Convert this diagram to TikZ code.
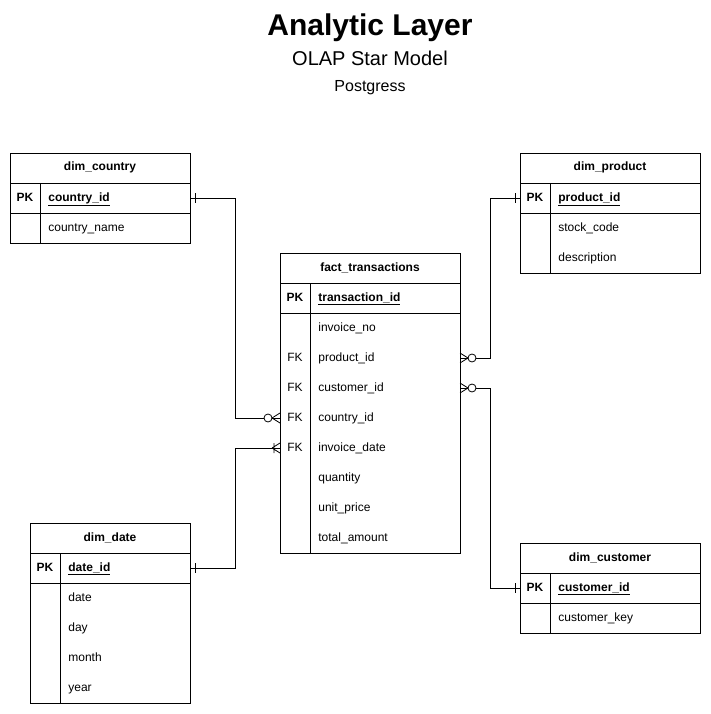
\documentclass[tikz,border=0pt]{standalone}
\usepackage{fontspec}
\setmainfont{Liberation Sans}
\usepackage{tikz}

\begin{document}
\begin{tikzpicture}[x=1pt,y=-1pt,line width=0.8pt,
	head/.style ={draw, minimum width=180pt, minimum height=30pt, inner sep=0pt, text height=9pt, text depth=3pt, font=\fontsize{12}{14}\selectfont\bfseries},
	key/.style ={inner sep=0pt, text height=9pt, text depth=3pt, font=\fontsize{12}{14}\selectfont},
	attr/.style ={anchor=west, inner sep=0pt, text height=9pt, text depth=3pt, font=\fontsize{12}{14}\selectfont},
	zmany/.pic ={\draw (-8,0) -- (0,-5) (-8,0) -- (0,5); \draw[fill=white] (-12,0) circle (4pt);},
	omany/.pic ={\draw (-8,0) -- (0,-5) (-8,0) -- (0,5) (-6,-5) -- (-6,5);},
	onebar/.pic ={\draw (5,-5) -- (5,5);}]
		\useasboundingbox (0,0) rectangle (711,714);
		% title
		\node[font=\fontsize{30}{34}\selectfont\bfseries] (title) at (370,28) {Analytic Layer};
		\node[font=\fontsize{20}{24}\selectfont] (sub) at (370,58) {OLAP Star Model};
		\node[font=\fontsize{16}{19}\selectfont] (db) at (370,88) {Postgress};
		% dim_country
		\node[head] (cty) at (100,168) {dim\_country};
		\draw (10,183) rectangle (190,213) (10,213) rectangle (190,243) (40,183) -- (40,243);
		\node[key, font=\fontsize{12}{14}\selectfont\bfseries] (cty-pk) at (25,198) {PK};
		\node[attr, font=\fontsize{12}{14}\selectfont\bfseries] (cty-id) at (48,198) {\underline{country\_id}};
		\node[attr] (cty-name) at (48,228) {country\_name};
		% dim_product
		\node[head] (prd) at (610,168) {dim\_product};
		\draw (520,183) rectangle (700,213) (520,213) rectangle (700,273) (550,183) -- (550,273);
		\node[key, font=\fontsize{12}{14}\selectfont\bfseries] (prd-pk) at (535,198) {PK};
		\node[attr, font=\fontsize{12}{14}\selectfont\bfseries] (prd-id) at (558,198) {\underline{product\_id}};
		\node[attr] (prd-code) at (558,228) {stock\_code};
		\node[attr] (prd-desc) at (558,258) {description};
		% fact_transactions
		\node[head] (ft) at (370,268) {fact\_transactions};
		\draw (280,283) rectangle (460,313) (280,313) rectangle (460,553) (310,283) -- (310,553);
		\node[key, font=\fontsize{12}{14}\selectfont\bfseries] (ft-pk) at (295,298) {PK};
		\node[attr, font=\fontsize{12}{14}\selectfont\bfseries] (ft-id) at (318,298) {\underline{transaction\_id}};
		\node[attr] (ft-inv) at (318,328) {invoice\_no};
		\node[key] (fk1) at (295,358) {FK};
		\node[attr] (ft-prd) at (318,358) {product\_id};
		\node[key] (fk2) at (295,388) {FK};
		\node[attr] (ft-cus) at (318,388) {customer\_id};
		\node[key] (fk3) at (295,418) {FK};
		\node[attr] (ft-cty) at (318,418) {country\_id};
		\node[key] (fk4) at (295,448) {FK};
		\node[attr] (ft-date) at (318,448) {invoice\_date};
		\node[attr] (ft-qty) at (318,478) {quantity};
		\node[attr] (ft-price) at (318,508) {unit\_price};
		\node[attr] (ft-total) at (318,538) {total\_amount};
		% dim_date
		\node[head, minimum width=160pt] (dt) at (110,538) {dim\_date};
		\draw (30,553) rectangle (190,583) (30,583) rectangle (190,703) (60,553) -- (60,703);
		\node[key, font=\fontsize{12}{14}\selectfont\bfseries] (dt-pk) at (45,568) {PK};
		\node[attr, font=\fontsize{12}{14}\selectfont\bfseries] (dt-id) at (68,568) {\underline{date\_id}};
		\node[attr] (dt-date) at (68,598) {date};
		\node[attr] (dt-day) at (68,628) {day};
		\node[attr] (dt-month) at (68,658) {month};
		\node[attr] (dt-year) at (68,688) {year};
		% dim_customer
		\node[head] (cus) at (610,558) {dim\_customer};
		\draw (520,573) rectangle (700,603) (520,603) rectangle (700,633) (550,573) -- (550,633);
		\node[key, font=\fontsize{12}{14}\selectfont\bfseries] (cus-pk) at (535,588) {PK};
		\node[attr, font=\fontsize{12}{14}\selectfont\bfseries] (cus-id) at (558,588) {\underline{customer\_id}};
		\node[attr] (cus-key) at (558,618) {customer\_key};
		% connector ends
		\coordinate (cty-r) at (190,198);
		\coordinate (prd-l) at (520,198);
		\coordinate (dt-r) at (190,568);
		\coordinate (cus-l) at (520,588);
		\coordinate (ft-l-cty) at (280,418);
		\coordinate (ft-l-date) at (280,448);
		\coordinate (ft-r-prd) at (460,358);
		\coordinate (ft-r-cus) at (460,388);
		% relations
		\draw (cty-r) -- (235,198) |- (ft-l-cty);
		\draw (dt-r) -- (235,568) |- (ft-l-date);
		\draw (prd-l) -- (490,198) |- (ft-r-prd);
		\draw (cus-l) -- (490,588) |- (ft-r-cus);
		\pic at (cty-r) {onebar};
		\pic at (dt-r) {onebar};
		\pic[xscale=-1] at (prd-l) {onebar};
		\pic[xscale=-1] at (cus-l) {onebar};
		\pic at (ft-l-cty) {zmany};
		\pic at (ft-l-date) {omany};
		\pic[xscale=-1] at (ft-r-prd) {zmany};
		\pic[xscale=-1] at (ft-r-cus) {zmany};
	\end{tikzpicture}
\end{document}
